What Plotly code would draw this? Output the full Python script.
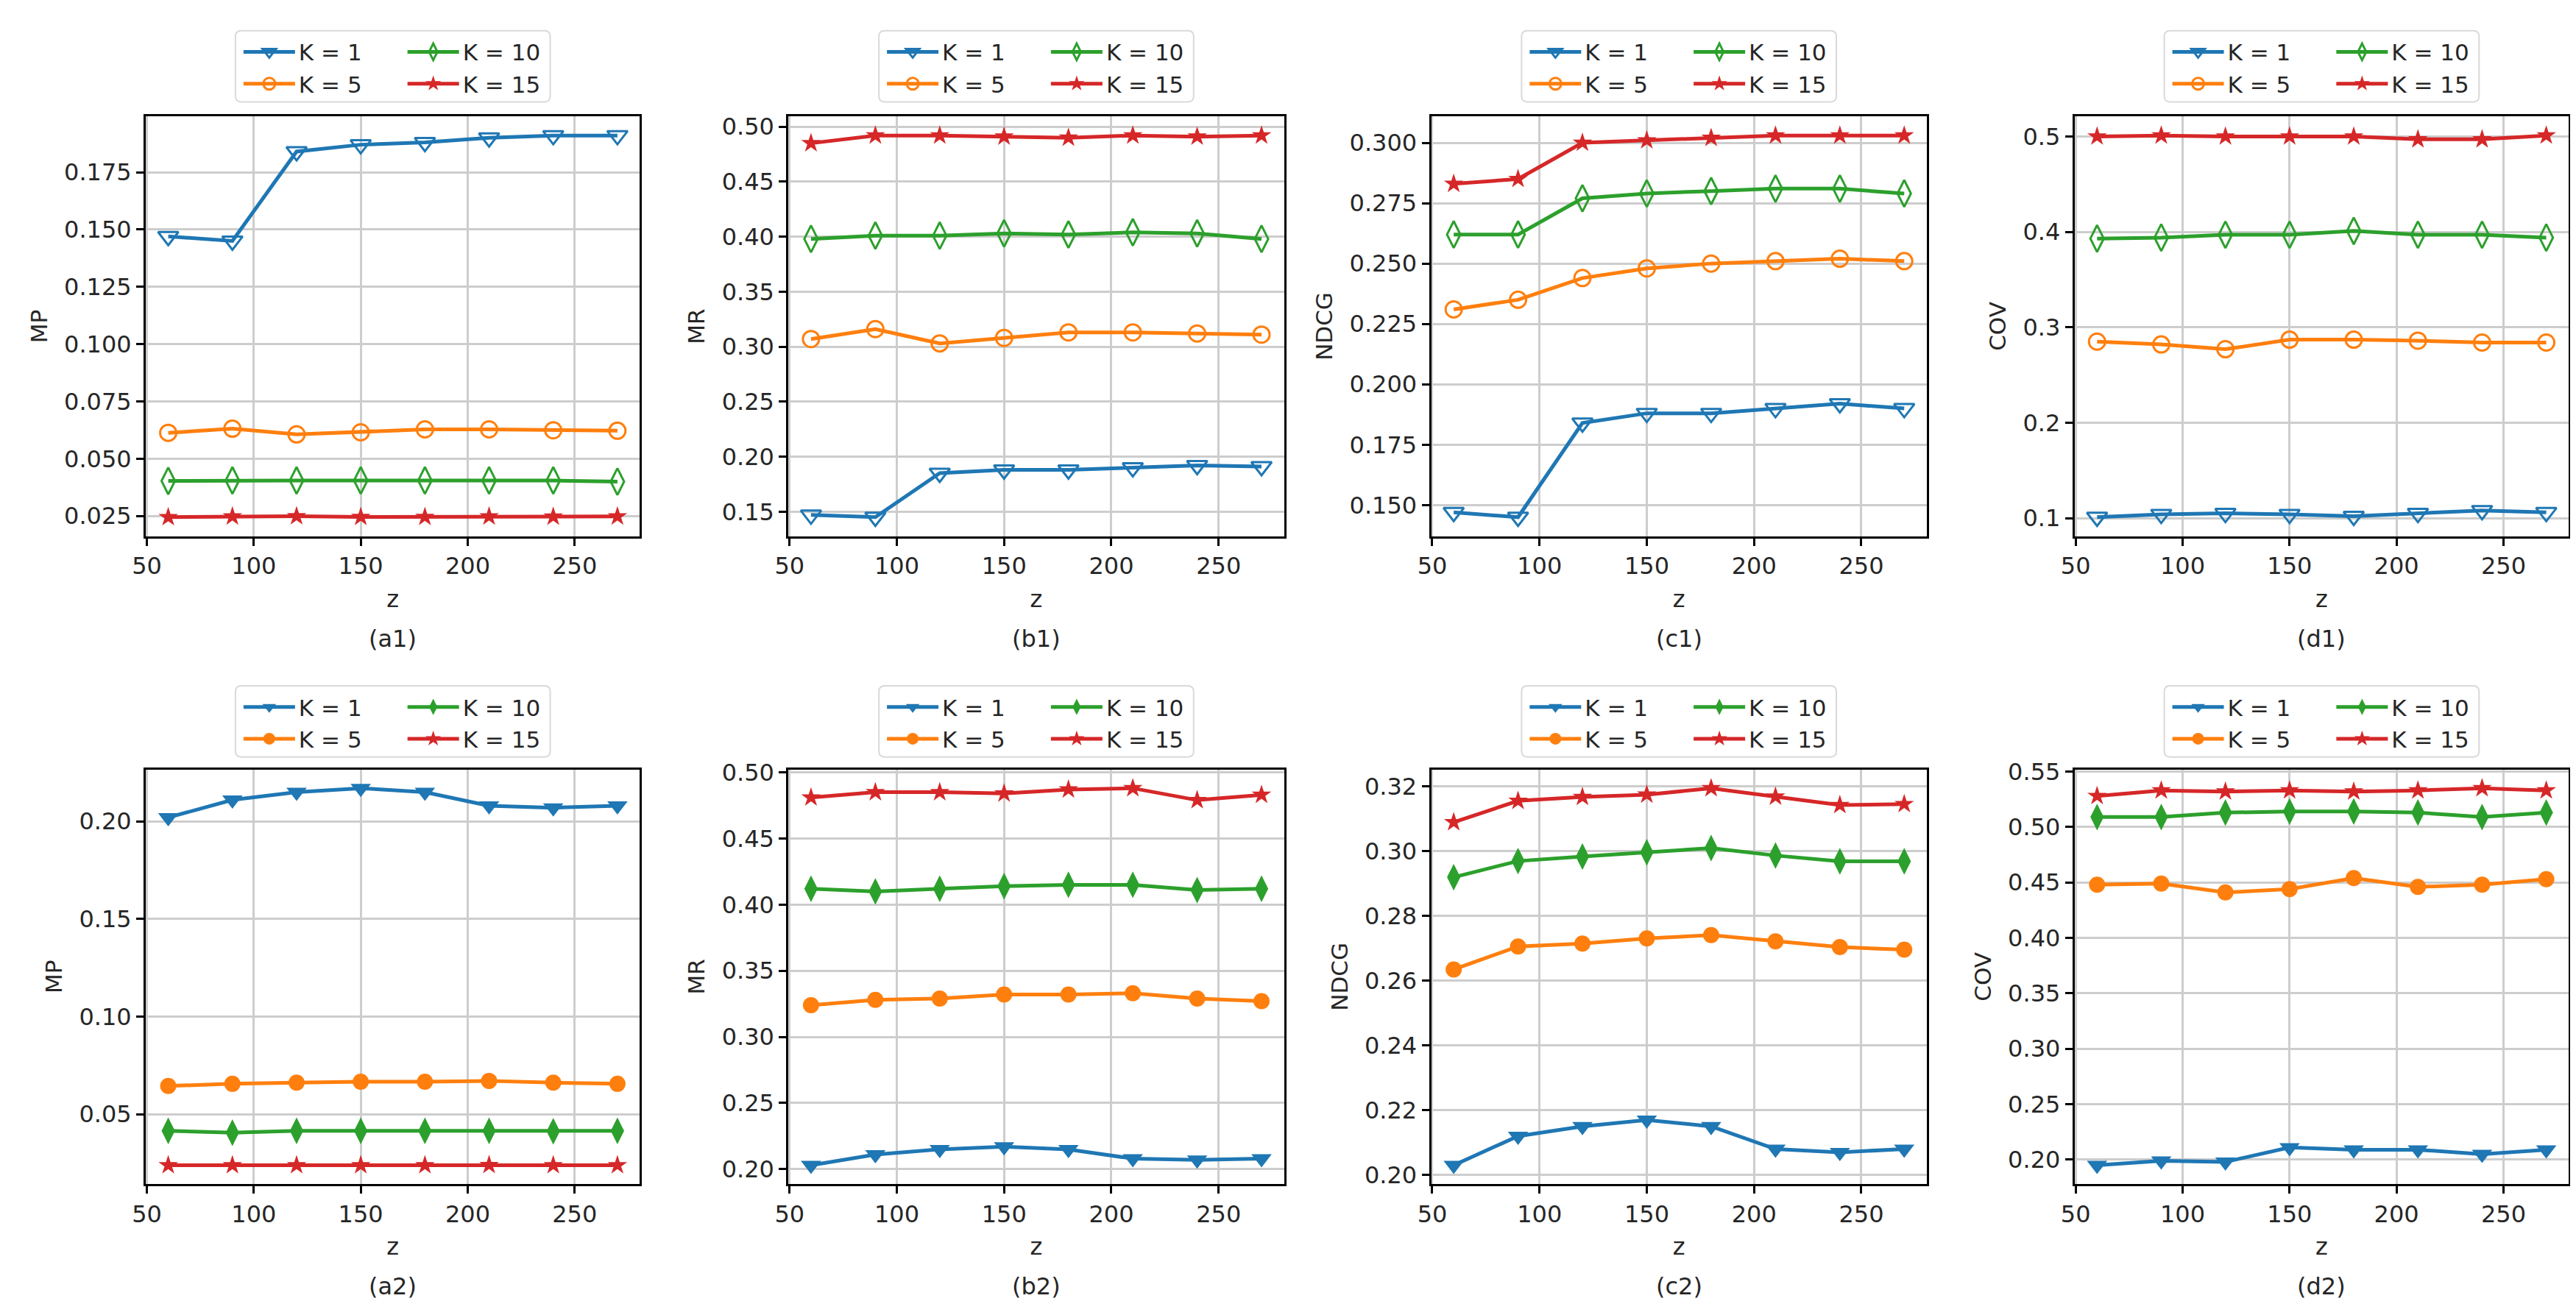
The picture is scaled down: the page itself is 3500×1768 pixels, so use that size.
import plotly.graph_objects as go
from plotly.subplots import make_subplots

# x values shared by all panels
z = [60, 90, 120, 150, 180, 210, 240, 270]
k_names = ["K = 1", "K = 5", "K = 10", "K = 15"]
colors = ["#1f77b4", "#ff7f0e", "#2ca02c", "#d62728"]

# top row (hollow markers), each panel: [K=1, K=5, K=10, K=15]
mp_top = [
    [0.147, 0.145, 0.184, 0.187, 0.188, 0.190, 0.191, 0.191],
    [0.0613, 0.0631, 0.0606, 0.0615, 0.0628, 0.0628, 0.0624, 0.0622],
    [0.0403, 0.0405, 0.0405, 0.0405, 0.0405, 0.0405, 0.0405, 0.0400],
    [0.0245, 0.0248, 0.0249, 0.0246, 0.0246, 0.0248, 0.0247, 0.0248],
]
mr_top = [
    [0.147, 0.145, 0.185, 0.188, 0.188, 0.190, 0.192, 0.191],
    [0.307, 0.316, 0.303, 0.308, 0.313, 0.313, 0.312, 0.311],
    [0.398, 0.401, 0.401, 0.403, 0.402, 0.404, 0.403, 0.398],
    [0.485, 0.492, 0.492, 0.491, 0.490, 0.492, 0.491, 0.492],
]
ndcg_top = [
    [0.147, 0.145, 0.184, 0.188, 0.188, 0.190, 0.192, 0.190],
    [0.231, 0.235, 0.244, 0.248, 0.250, 0.251, 0.252, 0.251],
    [0.262, 0.262, 0.277, 0.279, 0.280, 0.281, 0.281, 0.279],
    [0.283, 0.285, 0.300, 0.301, 0.302, 0.303, 0.303, 0.303],
]
cov_top = [
    [0.101, 0.104, 0.105, 0.104, 0.102, 0.105, 0.108, 0.106],
    [0.285, 0.282, 0.277, 0.287, 0.287, 0.286, 0.284, 0.284],
    [0.393, 0.394, 0.397, 0.397, 0.401, 0.397, 0.397, 0.394],
    [0.500, 0.501, 0.500, 0.500, 0.500, 0.497, 0.497, 0.501],
]

# bottom row (filled markers)
mp_bot = [
    [0.202, 0.211, 0.215, 0.217, 0.215, 0.208, 0.207, 0.208],
    [0.0645, 0.0656, 0.0662, 0.0667, 0.0667, 0.0671, 0.0662, 0.0656],
    [0.0415, 0.0406, 0.0415, 0.0415, 0.0415, 0.0415, 0.0413, 0.0415],
    [0.0239, 0.0239, 0.0239, 0.0239, 0.0239, 0.0240, 0.0239, 0.0239],
]
mr_bot = [
    [0.203, 0.211, 0.215, 0.217, 0.215, 0.208, 0.207, 0.208],
    [0.324, 0.328, 0.329, 0.332, 0.332, 0.333, 0.329, 0.327],
    [0.412, 0.410, 0.412, 0.414, 0.415, 0.415, 0.411, 0.412],
    [0.481, 0.485, 0.485, 0.484, 0.487, 0.488, 0.479, 0.483],
]
ndcg_bot = [
    [0.203, 0.212, 0.215, 0.217, 0.215, 0.208, 0.207, 0.208],
    [0.2635, 0.2706, 0.2715, 0.2731, 0.2741, 0.2722, 0.2704, 0.2696],
    [0.292, 0.297, 0.2984, 0.2997, 0.301, 0.2987, 0.2969, 0.2969],
    [0.309, 0.3156, 0.3168, 0.3175, 0.3195, 0.3169, 0.3143, 0.3146],
]
cov_bot = [
    [0.195, 0.199, 0.198, 0.211, 0.209, 0.209, 0.205, 0.209],
    [0.448, 0.449, 0.441, 0.444, 0.454, 0.446, 0.448, 0.453],
    [0.509, 0.509, 0.513, 0.514, 0.514, 0.513, 0.509, 0.513],
    [0.528, 0.533, 0.532, 0.533, 0.532, 0.533, 0.535, 0.533],
]

panels = [mp_top, mr_top, ndcg_top, cov_top, mp_bot, mr_bot, ndcg_bot, cov_bot]
y_titles = ["MP", "MR", "NDCG", "COV", "MP", "MR", "NDCG", "COV"]
y_steps = [0.025, 0.05, 0.025, 0.1, 0.05, 0.05, 0.02, 0.05]
y_formats = [".3f", ".2f", ".3f", ".1f", ".2f", ".2f", ".2f", ".2f"]
captions = ["(a1)", "(b1)", "(c1)", "(d1)", "(a2)", "(b2)", "(c2)", "(d2)"]

open_symbols = ["triangle-down-open", "circle-open", "diamond-tall-open", "star"]
filled_symbols = ["triangle-down", "circle", "diamond-tall", "star"]
marker_sizes = [24, 22, 26, 20]

# figure geometry in pixels
W, H = 3500, 1768
col_px = [(172, 847), (1050, 1727), (1928, 2605), (2807, 3482)]
row_px = [(136, 714), (1035, 1606)]
legend_top = [18, 920]
legend_w, legend_h = 430, 98

FONT = "DejaVu Sans"
TXT = "#262626"


def px_x(v):
    return v / W


def px_y(v):
    return 1 - v / H


def box_path(x0, y0, x1, y1, r=8):
    pts = [
        ("M", x0 + r, y0), ("L", x1 - r, y0), ("Q", x1, y0, x1, y0 + r),
        ("L", x1, y1 - r), ("Q", x1, y1, x1 - r, y1), ("L", x0 + r, y1),
        ("Q", x0, y1, x0, y1 - r), ("L", x0, y0 + r), ("Q", x0, y0, x0 + r, y0),
    ]
    out = ""
    for p in pts:
        cmd = p[0]
        coords = p[1:]
        s = []
        for j in range(0, len(coords), 2):
            s.append(f"{px_x(coords[j]):.6f},{px_y(coords[j + 1]):.6f}")
        out += cmd + " ".join(s) + " "
    return out + "Z"


fig = make_subplots(rows=2, cols=4)

legends = {}
shapes = []
annotations = []

for i, data in enumerate(panels):
    r, c = i // 4, i % 4
    symbols = open_symbols if r == 0 else filled_symbols
    lx0, lx1 = col_px[c]
    ly0, ly1 = row_px[r]
    cx = (lx0 + lx1) / 2

    for k in range(4):
        leg_idx = i * 2 + (0 if k < 2 else 1) + 1
        leg_name = "legend" if leg_idx == 1 else f"legend{leg_idx}"
        hollow = symbols[k].endswith("-open")
        fig.add_trace(go.Scatter(
            x=z, y=data[k], name=k_names[k], mode="lines+markers",
            line=dict(color=colors[k], width=5),
            marker=dict(symbol=symbols[k], size=marker_sizes[k], color=colors[k],
                        line=dict(color=colors[k], width=3 if hollow else 0)),
            legend=leg_name, showlegend=True,
        ), row=r + 1, col=c + 1)

    # two column legend, drawn as two stacked legends inside one box
    bx0 = cx - legend_w / 2
    by0 = legend_top[r]
    for j in range(2):
        leg_idx = i * 2 + j + 1
        leg_name = "legend" if leg_idx == 1 else f"legend{leg_idx}"
        legends[leg_name] = dict(
            x=px_x(bx0 + 6 + j * 224), y=px_y(by0 + 2),
            xanchor="left", yanchor="top", orientation="v",
            bgcolor="rgba(0,0,0,0)", borderwidth=0,
            font=dict(family=FONT, size=31, color=TXT),
            itemwidth=70, tracegroupgap=0,
        )
    shapes.append(dict(type="path", xref="paper", yref="paper",
                       path=box_path(bx0, by0, bx0 + legend_w, by0 + legend_h),
                       fillcolor="white", line=dict(color="#d9d9d9", width=2)))

    # caption under each panel
    annotations.append(dict(text=captions[i], x=px_x(cx), y=px_y(ly1 + 141),
                            xref="paper", yref="paper", showarrow=False,
                            xanchor="center", yanchor="middle",
                            font=dict(family=FONT, size=32, color=TXT)))

    # autoscale like matplotlib: 5% margins
    lo = min(min(s) for s in data)
    hi = max(max(s) for s in data)
    pad = (hi - lo) * 0.05

    fig.update_xaxes(
        domain=[px_x(lx0), px_x(lx1)], range=[z[0] - 10.5, z[-1] + 10.5],
        tick0=0, dtick=50,
        title=dict(text="z", standoff=16, font=dict(family=FONT, size=32, color=TXT)),
        row=r + 1, col=c + 1,
    )
    fig.update_yaxes(
        domain=[px_y(ly1), px_y(ly0)], range=[lo - pad, hi + pad],
        tick0=0, dtick=y_steps[i], tickformat=y_formats[i],
        title=dict(text=y_titles[i], standoff=14, font=dict(family=FONT, size=31, color=TXT)),
        row=r + 1, col=c + 1,
    )

fig.update_xaxes(showline=True, mirror=True, linecolor="black", linewidth=3,
                 ticks="outside", ticklen=10, tickwidth=2.5, tickcolor="black",
                 showgrid=True, gridcolor="#cdcdcd", gridwidth=2.5, zeroline=False,
                 tickfont=dict(family=FONT, size=32, color=TXT))
fig.update_yaxes(showline=True, mirror=True, linecolor="black", linewidth=3,
                 ticks="outside", ticklen=10, tickwidth=2.5, tickcolor="black",
                 showgrid=True, gridcolor="#cdcdcd", gridwidth=2.5, zeroline=False,
                 tickfont=dict(family=FONT, size=32, color=TXT))

fig.update_layout(
    width=W, height=H,
    margin=dict(l=0, r=0, t=0, b=0),
    paper_bgcolor="white", plot_bgcolor="white",
    font=dict(family=FONT, size=31, color=TXT),
    shapes=shapes, annotations=annotations,
    **legends,
)

fig.write_html("out.html")
